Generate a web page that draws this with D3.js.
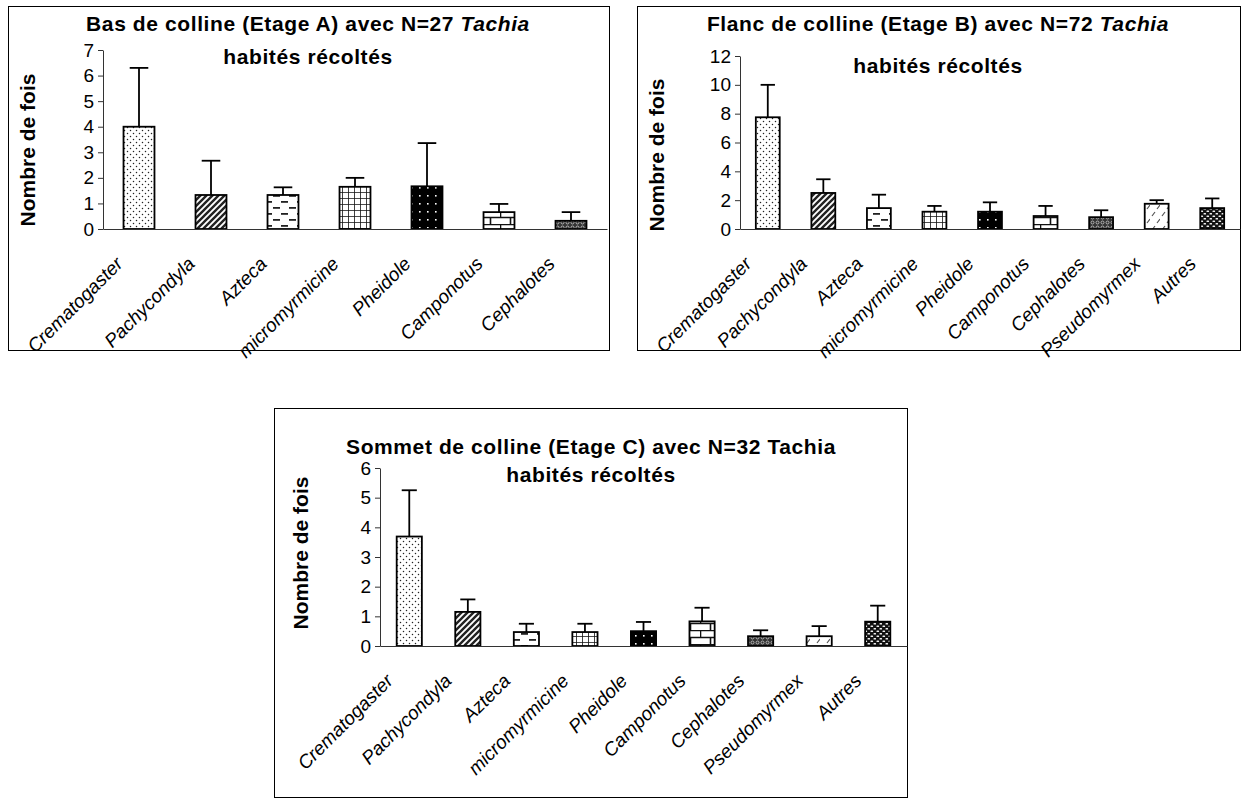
<!DOCTYPE html>
<html>
<head>
<meta charset="utf-8">
<script src="https://cdn.jsdelivr.net/npm/d3@7"></script>
<style>
  body { margin: 0; background: #fff; }
  svg { display: block; font-family: "Liberation Sans", Arial, sans-serif; }
  .tick text { font-size: 19px; fill: #000; }
  .xlab text { font-size: 19px; font-style: italic; }
</style>
</head>
<body>
<div id="chart"></div>
<script>
// Ant genera found in Tachia, three hill levels

const catsA = ["Crematogaster", "Pachycondyla", "Azteca", "micromyrmicine", "Pheidole", "Camponotus", "Cephalotes"];
const catsBC = ["Crematogaster", "Pachycondyla", "Azteca", "micromyrmicine", "Pheidole", "Camponotus", "Cephalotes", "Pseudomyrmex", "Autres"];

const meanA = [4.0, 1.33, 1.33, 1.65, 1.67, 0.66, 0.32];
const errA  = [2.3, 1.34, 0.3, 0.35, 1.69, 0.32, 0.34];

const meanB = [7.75, 2.5, 1.45, 1.2, 1.2, 0.9, 0.82, 1.75, 1.45];
const errB  = [2.25, 0.95, 0.93, 0.4, 0.65, 0.7, 0.48, 0.25, 0.67];

const meanC = [3.69, 1.15, 0.47, 0.47, 0.5, 0.83, 0.33, 0.33, 0.82];
const errC  = [1.56, 0.42, 0.28, 0.28, 0.31, 0.46, 0.2, 0.34, 0.54];

const ticksA = [0, 1, 2, 3, 4, 5, 6, 7];
const ticksB = [0, 2, 4, 6, 8, 10, 12];
const ticksC = [0, 1, 2, 3, 4, 5, 6];

const titleA = ["Bas de colline (Etage A) avec N=27 ", "Tachia", "habités récoltés"];
const titleB = ["Flanc de colline (Etage B) avec N=72 ", "Tachia", "habités récoltés"];
const titleC = ["Sommet de colline (Etage C) avec N=32 ", "Tachia", "habités récoltés"];
const yLabel = "Nombre de fois";

const width = 1242, height = 799;

const svg = d3.select("#chart")
  .append("svg")
  .attr("width", width)
  .attr("height", height)
  .attr("viewBox", [0, 0, width, height]);

// fill patterns, one per genus
const defs = svg.append("defs");
function pat(id, w, h, bg, draw) {
  const p = defs.append("pattern")
    .attr("id", id)
    .attr("patternUnits", "userSpaceOnUse")
    .attr("width", w).attr("height", h);
  p.append("rect").attr("width", w).attr("height", h).attr("fill", bg);
  draw(p);
}
pat("p-dots", 6, 6, "#fff", p => {
  p.append("circle").attr("cx", 1.5).attr("cy", 1.5).attr("r", 0.75).attr("fill", "#222");
  p.append("circle").attr("cx", 4.5).attr("cy", 4.5).attr("r", 0.75).attr("fill", "#222");
});
pat("p-diag", 6, 6, "#fff", p => {
  p.append("path").attr("d", "M-1,1 l2,-2 M0,6 l6,-6 M5,7 l2,-2")
    .attr("stroke", "#222").attr("stroke-width", 2.4);
});
pat("p-dash", 16, 12, "#fff", p => {
  p.append("rect").attr("x", 1).attr("y", 3).attr("width", 7).attr("height", 1.8).attr("fill", "#222");
  p.append("rect").attr("x", 9).attr("y", 9).attr("width", 7).attr("height", 1.8).attr("fill", "#222");
});
pat("p-grid", 6, 6, "#fff", p => {
  p.append("path").attr("d", "M0,0 V6 M0,0 H6").attr("stroke", "#111").attr("stroke-width", 1.6);
});
pat("p-bdots", 8, 8, "#000", p => {
  p.append("rect").attr("x", 3).attr("y", 3).attr("width", 1.6).attr("height", 1.6).attr("fill", "#fff");
});
pat("p-brick", 20, 14, "#fff", p => {
  p.append("path").attr("d", "M0,0.5 H20 M0,7.5 H20 M0.5,0 V7 M10.5,7 V14")
    .attr("stroke", "#111").attr("stroke-width", 1.6);
});
pat("p-ceph", 5, 5, "#333", p => {
  p.append("circle").attr("cx", 2.5).attr("cy", 2.5).attr("r", 1.5)
    .attr("fill", "none").attr("stroke", "#ddd").attr("stroke-width", 0.7);
});
pat("p-pseudo", 10, 14, "#fff", p => {
  p.append("path").attr("d", "M2,6 l3,-4 M7,13 l3,-4")
    .attr("stroke", "#555").attr("stroke-width", 1.2);
});
pat("p-autres", 6, 5, "#111", p => {
  p.append("rect").attr("x", 0.5).attr("y", 0.6).attr("width", 2.6).attr("height", 1.5).attr("rx", 0.6).attr("fill", "#eee");
  p.append("rect").attr("x", 3.5).attr("y", 3.1).attr("width", 2.6).attr("height", 1.5).attr("rx", 0.6).attr("fill", "#eee");
});

const patternOf = {
  Crematogaster: "p-dots", Pachycondyla: "p-diag", Azteca: "p-dash",
  micromyrmicine: "p-grid", Pheidole: "p-bdots", Camponotus: "p-brick",
  Cephalotes: "p-ceph", Pseudomyrmex: "p-pseudo", Autres: "p-autres"
};

function drawPanel(o) {
  const g = svg.append("g");

  // frame
  g.append("rect")
    .attr("x", o.box[0] + 0.5).attr("y", o.box[1] + 0.5)
    .attr("width", o.box[2] - o.box[0]).attr("height", o.box[3] - o.box[1])
    .attr("fill", "none").attr("stroke", "#000").attr("stroke-width", 1);

  const data = o.cats.map((c, i) => ({ cat: c, mean: o.mean[i], err: o.err[i] }));

  const x = d3.scaleBand()
    .domain(o.cats)
    .range([o.x0, o.x1])
    .paddingInner(0.57)
    .paddingOuter(0.285);

  const y = d3.scaleLinear()
    .domain([0, d3.max(o.ticks)])
    .range([o.yBase, o.yTop]);

  // bars
  g.selectAll("rect.bar")
    .data(data)
    .join("rect")
    .attr("class", "bar")
    .attr("x", d => x(d.cat))
    .attr("y", d => y(d.mean))
    .attr("width", x.bandwidth())
    .attr("height", d => y(0) - y(d.mean))
    .attr("fill", d => `url(#${patternOf[d.cat]})`)
    .attr("stroke", "#000")
    .attr("stroke-width", 1.8);

  // error bars (upper only)
  const cap = x.bandwidth() * 0.3;
  const eb = g.selectAll("g.err").data(data).join("g").attr("class", "err")
    .attr("stroke", "#000").attr("stroke-width", 1.8);
  eb.append("line")
    .attr("x1", d => x(d.cat) + x.bandwidth() / 2)
    .attr("x2", d => x(d.cat) + x.bandwidth() / 2)
    .attr("y1", d => y(d.mean))
    .attr("y2", d => y(d.mean + d.err));
  eb.append("line")
    .attr("x1", d => x(d.cat) + x.bandwidth() / 2 - cap)
    .attr("x2", d => x(d.cat) + x.bandwidth() / 2 + cap)
    .attr("y1", d => y(d.mean + d.err))
    .attr("y2", d => y(d.mean + d.err));

  // x axis with rotated labels
  const xa = g.append("g")
    .attr("class", "xlab")
    .attr("transform", `translate(0,${o.yBase})`)
    .call(d3.axisBottom(x).tickSize(0).tickSizeOuter(0));
  xa.select(".domain").attr("stroke", "#333");
  xa.selectAll("text")
    .attr("y", 0).attr("dy", 0)
    .attr("text-anchor", "end")
    .attr("fill", "#000")
    .attr("transform", "translate(-15,36) rotate(-45)");

  // y axis
  const ya = g.append("g")
    .attr("transform", `translate(${o.x0},0)`)
    .call(d3.axisLeft(y).tickValues(o.ticks).tickFormat(d3.format("d"))
      .tickSize(5).tickSizeOuter(0).tickPadding(4));
  ya.select(".domain").attr("stroke", "#333");
  ya.selectAll(".tick line").attr("stroke", "#333");

  // title
  const t = g.append("text")
    .attr("x", o.titleX).attr("y", o.titleY1)
    .attr("text-anchor", "middle")
    .attr("font-size", 21).attr("font-weight", "bold")
    .attr("letter-spacing", 0.6);
  t.append("tspan").text(o.title[0]);
  t.append("tspan").attr("font-style", o.italic ? "italic" : "normal").text(o.title[1]);
  g.append("text")
    .attr("x", o.titleX).attr("y", o.titleY2)
    .attr("text-anchor", "middle")
    .attr("font-size", 21).attr("font-weight", "bold")
    .attr("letter-spacing", 0.6)
    .text(o.title[2]);

  // y label
  g.append("text")
    .attr("transform", `translate(${o.labelX},${o.labelY}) rotate(-90)`)
    .attr("text-anchor", "middle")
    .attr("font-size", 21).attr("font-weight", "bold")
    .text(yLabel);
}

drawPanel({
  cats: catsA, mean: meanA, err: errA, ticks: ticksA, title: titleA, italic: true,
  box: [8, 6, 609, 350], x0: 103, x1: 607, yBase: 229, yTop: 50,
  titleX: 308, titleY1: 31, titleY2: 64, labelX: 35, labelY: 150
});

drawPanel({
  cats: catsBC, mean: meanB, err: errB, ticks: ticksB, title: titleB, italic: true,
  box: [637, 6, 1240, 350], x0: 740, x1: 1240, yBase: 229, yTop: 56,
  titleX: 938, titleY1: 31, titleY2: 73, labelX: 664, labelY: 155
});

drawPanel({
  cats: catsBC, mean: meanC, err: errC, ticks: ticksC, title: titleC, italic: false,
  box: [274, 408, 907, 797], x0: 380, x1: 907, yBase: 646, yTop: 468,
  titleX: 591, titleY1: 454, titleY2: 482, labelX: 308, labelY: 553
});
</script>
</body>
</html>
